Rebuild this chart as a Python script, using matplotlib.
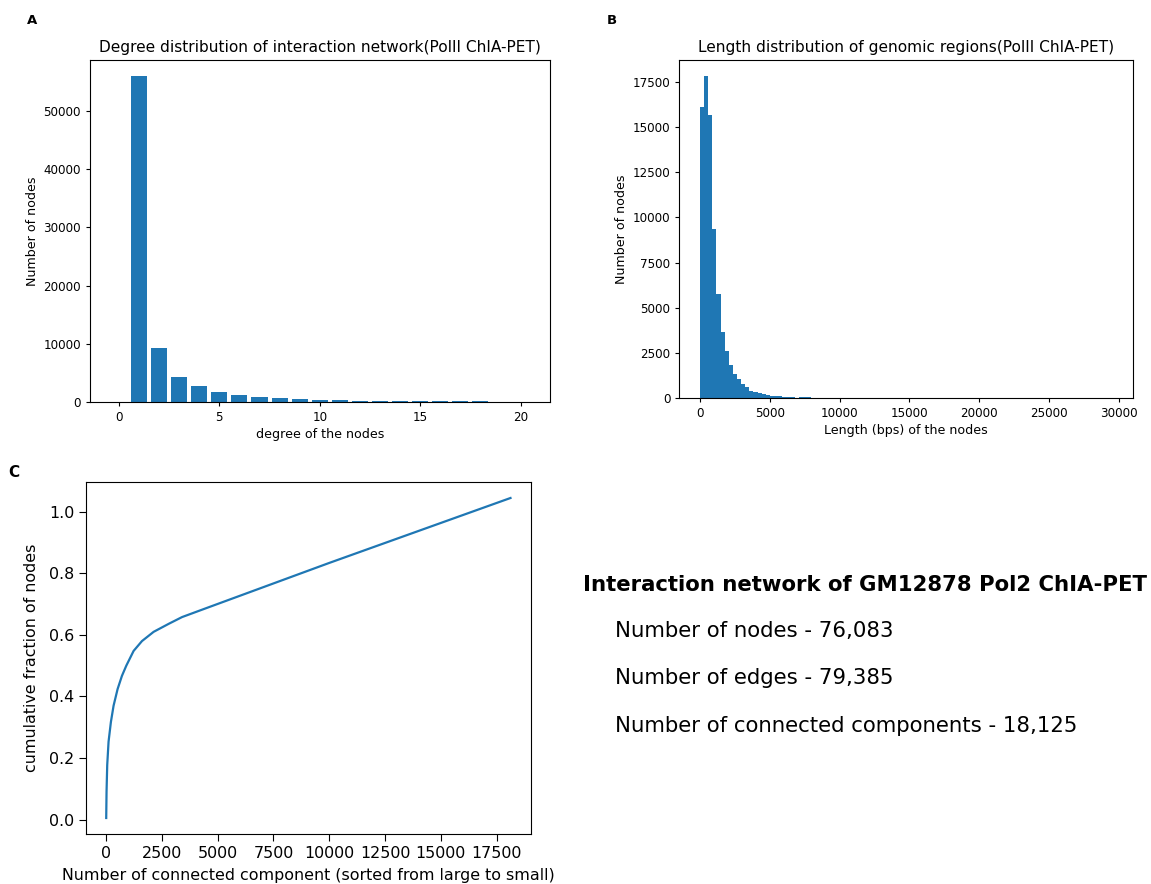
import numpy as np
import matplotlib.pyplot as plt

# degree distribution (degree 0..20)
degrees = list(range(21))
degree_counts = [0, 56030, 9250, 4250, 2700, 1670, 1150, 805, 630, 460,
                 300, 290, 130, 110, 100, 90, 50, 40, 35, 30, 25]

# length histogram: 100 bins over 0..29500 bp
length_edges = np.linspace(0, 29500, 101)
length_counts = [16100, 17800, 15650, 9330, 5740, 3690, 2640, 1860, 1360, 1080,
                 800, 600, 430, 370, 310, 260, 200, 150, 140, 100,
                 90, 80, 80, 30, 80, 50, 45, 40, 40, 35,
                 35, 30, 30, 30, 30, 25, 10, 30, 30, 10,
                 30, 30, 25, 20, 20, 20, 20, 20, 20, 20,
                 20, 20, 20, 20, 20, 20, 20, 20, 20, 20,
                 20, 20, 0, 20, 20, 20, 20, 20, 0, 20,
                 20, 20, 20, 20, 20, 20, 20, 20, 20, 25,
                 20, 20, 20, 25, 10, 20, 25, 20, 20, 0,
                 20, 20, 10, 20, 20, 20, 20, 20, 20, 10]

# cumulative fraction of nodes vs. connected component rank
comp_rank = [0, 15, 45, 105, 210, 330, 510, 705, 900, 1228, 1603, 2125, 2800,
             3400, 4446, 10000, 18125]
comp_frac = [0.005, 0.091, 0.177, 0.253, 0.317, 0.370, 0.424, 0.467, 0.500, 0.548,
             0.580, 0.610, 0.636, 0.658, 0.686, 0.834, 1.045]

stats_title = "Interaction network of GM12878 Pol2 ChIA-PET"
stats_lines = ["Number of nodes - 76,083",
               "Number of edges - 79,385",
               "Number of connected components - 18,125"]

W, H = 1151, 884
fig = plt.figure(figsize=(W / 100, H / 100), dpi=100)


def box(left, top, right, bottom):
    return [left / W, 1 - bottom / H, (right - left) / W, (bottom - top) / H]


tick_small = 8.6
label_small = 9.1
title_small = 11.1
big = 11.4

# A: degree distribution
axA = fig.add_axes(box(90, 60, 549.5, 401.7))
axA.bar(degrees, degree_counts, color="#1f77b4")
axA.set_title("Degree distribution of interaction network(PolII ChIA-PET)", fontsize=title_small, pad=5.5)
axA.set_xlabel("degree of the nodes", fontsize=label_small, labelpad=3)
axA.set_ylabel("Number of nodes", fontsize=label_small, labelpad=3)
axA.tick_params(labelsize=tick_small, length=3)
axA.set_xticks([0, 5, 10, 15, 20])

# B: length distribution
axB = fig.add_axes(box(679.3, 60, 1132.7, 398.3))
axB.hist(length_edges[:-1], bins=length_edges, weights=length_counts, color="#1f77b4")
axB.set_title("Length distribution of genomic regions(PolII ChIA-PET)", fontsize=title_small, pad=5.5)
axB.set_xlabel("Length (bps) of the nodes", fontsize=label_small, labelpad=3)
axB.set_ylabel("Number of nodes", fontsize=label_small, labelpad=3)
axB.tick_params(labelsize=tick_small, length=3)
axB.set_xticks([0, 5000, 10000, 15000, 20000, 25000, 30000])
axB.set_yticks(np.arange(0, 17501, 2500))

# C: cumulative fraction
axC = fig.add_axes(box(86, 482, 530.7, 834))
axC.plot(comp_rank, comp_frac, color="#1f77b4", lw=1.6)
axC.set_xlabel("Number of connected component (sorted from large to small)", fontsize=big, labelpad=5)
axC.set_ylabel("cumulative fraction of nodes", fontsize=big, labelpad=7)
axC.tick_params(labelsize=big, length=5)
axC.set_xticks(np.arange(0, 17501, 2500))
axC.set_yticks([0.0, 0.2, 0.4, 0.6, 0.8, 1.0])

# panel letters
fig.text(27 / W, 1 - 24 / H, "A", fontsize=9.5, fontweight="bold")
fig.text(607 / W, 1 - 24 / H, "B", fontsize=9.5, fontweight="bold")
fig.text(8 / W, 1 - 477 / H, "C", fontsize=11, fontweight="bold")

# network summary
fig.text(583 / W, 1 - 591 / H, stats_title, fontsize=15.3, fontweight="bold")
for i, line in enumerate(stats_lines):
    fig.text(615 / W, 1 - (637 + 47.3 * i) / H, line, fontsize=15.3)

fig.savefig("out.png", dpi=100)
